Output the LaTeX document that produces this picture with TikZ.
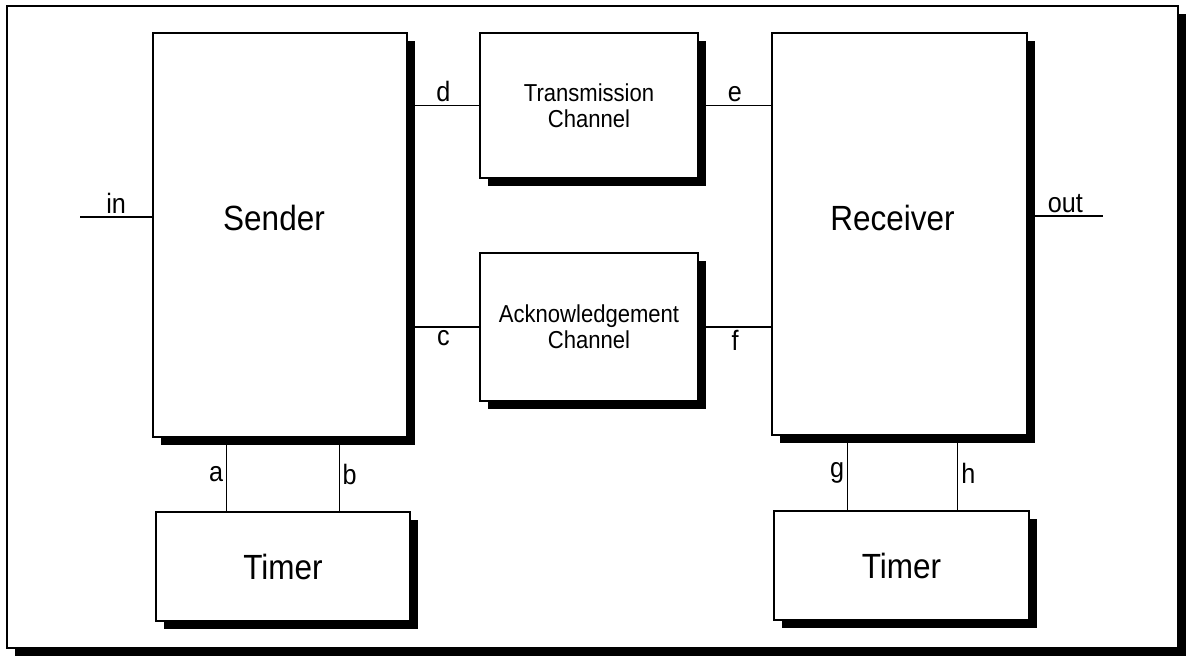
\documentclass[tikz,border=0pt]{standalone}
\usepackage{fontspec}
\setmainfont[FakeStretch=0.9]{Liberation Sans}
\usetikzlibrary{calc}
\usetikzlibrary{shadows}
\tikzstyle{shade}=[drop shadow={shadow xshift=8pt,shadow yshift=-8pt,fill=black,opacity=1}]
\tikzstyle{blk}=[draw,line width=1.2pt,fill=white,shade]
\tikzstyle{bigtxt}=[font=\fontsize{35}{37}\selectfont]
\tikzstyle{big}=[blk,bigtxt]
\tikzstyle{chan}=[blk,align=center,font=\fontsize{24.5}{26}\selectfont]
\tikzstyle{lbl}=[font=\fontsize{28}{30}\selectfont,inner sep=3pt]
\tikzstyle{wire}=[line width=1.2pt]

\begin{document}
\begin{tikzpicture}[x=1pt,y=-1pt]
				\useasboundingbox (0,0) rectangle (1187,662);
				\draw[line width=1.6pt,fill=white,shade] (7,6) rectangle (1178,648);
				% boxes
				\node[big,minimum width=254pt,minimum height=404pt,
					label={[bigtxt,xshift=-6pt,yshift=17pt]center:Sender}] (snd) at (280,235) {};
				\node[big,minimum width=255pt,minimum height=402pt,
					label={[bigtxt,xshift=-7pt,yshift=16pt]center:Receiver}] (rcv) at (899.5,234) {};
				\node[chan,minimum width=218pt,minimum height=145pt] (trans) at (589,105.5) {Transmission\\Channel};
				\node[chan,minimum width=218pt,minimum height=148pt] (ack) at (589,327) {Acknowledgement\\Channel};
				\node[big,minimum width=254pt,minimum height=109pt] (tmrS) at (283,566.5) {Timer};
				\node[big,minimum width=255pt,minimum height=109pt] (tmrR) at (901.5,565.5) {Timer};
				\coordinate (inp) at (80,217);
				\coordinate (outp) at (1103,216);
				\coordinate (ta) at ($(tmrS.north west)!.28!(tmrS.north east)$);
				\coordinate (tb) at ($(tmrS.north west)!.72!(tmrS.north east)$);
				\coordinate (tg) at ($(tmrR.north west)!.29!(tmrR.north east)$);
				\coordinate (th) at ($(tmrR.north west)!.72!(tmrR.north east)$);
				% wires
				\draw[wire] (inp) --node[lbl,above]{in} (inp -| snd.west);
				\draw[wire] (rcv.east |- outp) --node[lbl,above]{out} (outp);
				\draw[wire] (snd.east |- trans.west) --node[lbl,above]{d} (trans.west);
				\draw[wire] (trans.east) --node[lbl,above]{e} (rcv.west |- trans.east);
				\draw[wire] (snd.east |- ack.west) --node[lbl,below]{c} (ack.west);
				\draw[wire] (ack.east) --node[lbl,below]{f} (rcv.west |- ack.east);
				\draw[wire] (ta |- snd.south) --node[lbl,left] {a} (ta);
				\draw[wire] (tb |- snd.south) --node[lbl,right]{b} (tb);
				\draw[wire] (tg |- rcv.south) --node[lbl,left] {g} (tg);
				\draw[wire] (th |- rcv.south) --node[lbl,right]{h} (th);
				\end{tikzpicture}
\end{document}
